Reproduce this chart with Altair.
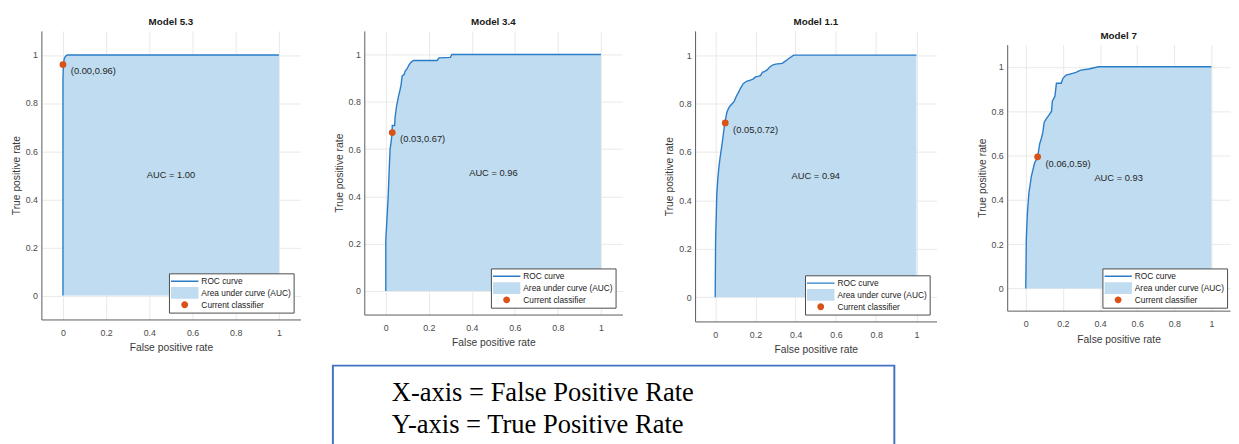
import altair as alt
import pandas as pd

# ---------------- data ----------------
titles = ["Model 5.3", "Model 3.4", "Model 1.1", "Model 7"]
auc_labels = ["AUC = 1.00", "AUC = 0.96", "AUC = 0.94", "AUC = 0.93"]

m53_fpr = [0.0, 0.0, 0.002, 0.006, 0.012, 0.02, 1.0]
m53_tpr = [0.0, 0.90, 0.96, 0.985, 0.995, 1.0, 1.0]

m34_fpr = [0.0, 0.0, 0.005, 0.011, 0.016, 0.020, 0.026, 0.029, 0.030, 0.041, 0.043, 0.049,
           0.059, 0.066, 0.071, 0.076, 0.085, 0.090, 0.099, 0.107, 0.117, 0.129, 0.239,
           0.247, 0.300, 0.307, 1.0]
m34_tpr = [0.0, 0.215, 0.30, 0.40, 0.52, 0.60, 0.64, 0.667, 0.70, 0.70, 0.734, 0.776,
           0.824, 0.85, 0.873, 0.91, 0.915, 0.93, 0.94, 0.955, 0.967, 0.975, 0.975,
           0.986, 0.988, 1.0, 1.0]

m11_fpr = [0.0, 0.002, 0.005, 0.008, 0.013, 0.018, 0.024, 0.031, 0.040, 0.047, 0.058, 0.066,
           0.074, 0.085, 0.095, 0.105, 0.115, 0.127, 0.139, 0.156, 0.175, 0.188, 0.200,
           0.212, 0.225, 0.235, 0.245, 0.258, 0.270, 0.285, 0.300, 0.333, 0.350, 0.366,
           0.390, 1.0]
m11_tpr = [0.0, 0.236, 0.33, 0.426, 0.49, 0.534, 0.575, 0.615, 0.67, 0.716, 0.764, 0.78,
           0.79, 0.80, 0.81, 0.83, 0.845, 0.865, 0.882, 0.892, 0.897, 0.901, 0.91,
           0.912, 0.915, 0.93, 0.932, 0.939, 0.95, 0.959, 0.963, 0.966, 0.976, 0.986,
           1.0, 1.0]

m7_fpr = [0.0, 0.003, 0.006, 0.009, 0.017, 0.030, 0.047, 0.064, 0.075, 0.085, 0.092, 0.099,
          0.110, 0.122, 0.139, 0.143, 0.157, 0.165, 0.191, 0.200, 0.217, 0.252, 0.270,
          0.296, 0.339, 0.391, 1.0]
m7_tpr = [0.0, 0.226, 0.29, 0.344, 0.432, 0.506, 0.565, 0.594, 0.653, 0.68, 0.705, 0.749,
          0.765, 0.779, 0.80, 0.845, 0.867, 0.926, 0.926, 0.948, 0.963, 0.97, 0.975,
          0.985, 0.99, 1.0, 1.0]

curves_fpr = [m53_fpr, m34_fpr, m11_fpr, m7_fpr]
curves_tpr = [m53_tpr, m34_tpr, m11_tpr, m7_tpr]

point_fpr = [0.00, 0.03, 0.05, 0.064]
point_tpr = [0.96, 0.67, 0.72, 0.594]
point_labels = ["(0.00,0.96)", "(0.03,0.67)", "(0.05,0.72)", "(0.06,0.59)"]

legend_names = ["ROC curve", "Area under curve (AUC)", "Current classifier"]
tick_values = [0, 0.2, 0.4, 0.6, 0.8, 1]

caption_lines = ["X-axis = False Positive Rate", "Y-axis = True Positive Rate"]

# ---------------- style ----------------
SANS = "Liberation Sans"
SERIF = "Liberation Serif"
LINE = "#2a7cc7"
AREA = "#bfdcf1"
ORANGE = "#d95319"
legend_colors = [LINE, AREA, ORANGE]
legend_shapes = [
    "M-1,-0.05H1V0.05H-1Z",
    "M-1,-0.46H1V0.46H-1Z",
    "M-0.25,0A0.25,0.25,0,1,1,0.25,0A0.25,0.25,0,1,1,-0.25,0Z",
]

widths = [264, 263, 246, 227]
heights = [294, 289, 296, 271]
legend_offsets = [7, 7, 7, 3]


def spacer(w, h):
    return alt.Chart(alt.Data(values=[{"a": 0}])).mark_point(opacity=0).encode(
        x=alt.value(0), y=alt.value(0)
    ).properties(width=w, height=h)


def panel(i):
    df = pd.DataFrame({"fpr": curves_fpr[i], "tpr": curves_tpr[i]})
    xs = alt.Scale(domain=[-0.1, 1.1], nice=False, zero=False)
    ys = alt.Scale(domain=[-0.1, 1.1], nice=False, zero=False)
    xax = alt.Axis(values=tick_values, format="~g", title="False positive rate",
                   labelPadding=9, titlePadding=6)
    yax = alt.Axis(values=tick_values, format="~g", title="True positive rate",
                   labelPadding=4, titlePadding=4)
    base = alt.Chart(df)
    area = base.mark_area(color=AREA, opacity=1).encode(
        x=alt.X("fpr:Q", scale=xs, axis=xax),
        y=alt.Y("tpr:Q", scale=ys, axis=yax),
        y2=alt.datum(0),
    )
    line = base.mark_line(color=LINE, strokeWidth=1.4).encode(x="fpr:Q", y="tpr:Q")
    pdf = pd.DataFrame({"fpr": [point_fpr[i]], "tpr": [point_tpr[i]], "label": [point_labels[i]]})
    pt = alt.Chart(pdf).mark_circle(color=ORANGE, size=48, opacity=1).encode(x="fpr:Q", y="tpr:Q")
    ptxt = alt.Chart(pdf).mark_text(align="left", baseline="middle", dx=8, dy=7,
                                    font=SANS, fontSize=9.5, color="#262626").encode(
        x="fpr:Q", y="tpr:Q", text="label:N")
    adf = pd.DataFrame({"fpr": [0.5], "tpr": [0.5], "label": [auc_labels[i]]})
    atxt = alt.Chart(adf).mark_text(align="center", baseline="middle",
                                    font=SANS, fontSize=9.5, color="#262626").encode(
        x="fpr:Q", y="tpr:Q", text="label:N")
    leg = alt.Chart(alt.Data(values=[{"series": s} for s in legend_names])).transform_filter(
        "false").mark_point(filled=True, opacity=1).encode(
        x=alt.value(0), y=alt.value(0),
        color=alt.Color("series:N", scale=alt.Scale(domain=legend_names, range=legend_colors),
                        legend=alt.Legend(title=None, offset=legend_offsets[i])),
        shape=alt.Shape("series:N", scale=alt.Scale(domain=legend_names, range=legend_shapes),
                        legend=alt.Legend(title=None, offset=legend_offsets[i])),
    )
    return alt.layer(area, line, pt, ptxt, atxt, leg).properties(
        width=widths[i], height=heights[i], title=titles[i]
    )


p1, p2, p3, p4 = [panel(i) for i in range(4)]
p4col = alt.vconcat(spacer(widths[3], 14), p4, spacing=0, bounds="flush").resolve_scale(
    color="independent", shape="independent").resolve_legend(color="independent", shape="independent")

top_row = alt.hconcat(p1, spacer(65, 1), p2, spacer(74, 1), p3, spacer(72, 1), p4col,
                      spacing=0, bounds="flush").resolve_scale(
    color="independent", shape="independent").resolve_legend(color="independent", shape="independent")

cap_df = pd.DataFrame({"row": [0, 1], "text": caption_lines})
caption = alt.Chart(cap_df).mark_text(align="left", baseline="middle", font=SERIF,
                                      fontSize=27, color="#000000").encode(
    x=alt.value(60),
    y=alt.Y("row:O", axis=None, scale=alt.Scale(range=[28, 61], padding=0)),
    text="text:N",
).properties(width=572, height=100, view=alt.ViewBackground(stroke="#4472c4", strokeWidth=2))

text_row = alt.hconcat(spacer(297, 1), caption, spacing=0, bounds="flush")

chart = alt.vconcat(top_row, text_row, spacing=6).resolve_scale(
    color="independent", shape="independent").resolve_legend(
    color="independent", shape="independent").properties(
    padding={"left": 2, "top": 4, "right": 0, "bottom": 0}
).configure_view(stroke="transparent").configure_axis(
    domainColor="#5a5a5a", gridColor="#e9e9e9", ticks=False,
    labelFont=SANS, labelFontSize=9, labelColor="#4a4a4a",
    titleFont=SANS, titleFontSize=10.5, titleFontWeight="normal", titleColor="#3a3a3a",
).configure_title(
    font=SANS, fontSize=10, fontWeight="bold", color="#1a1a1a", offset=4
).configure_legend(
    orient="bottom-right", fillColor="#ffffff", strokeColor="#4a4a4a",
    padding=2, symbolSize=784, clipHeight=12, rowPadding=0, labelOffset=3,
    labelFont=SANS, labelFontSize=8.5, labelColor="#1a1a1a", symbolStrokeWidth=0,
    symbolOffset=0,
)

chart.save("out.html", embed_options={"renderer": "svg", "actions": False})
